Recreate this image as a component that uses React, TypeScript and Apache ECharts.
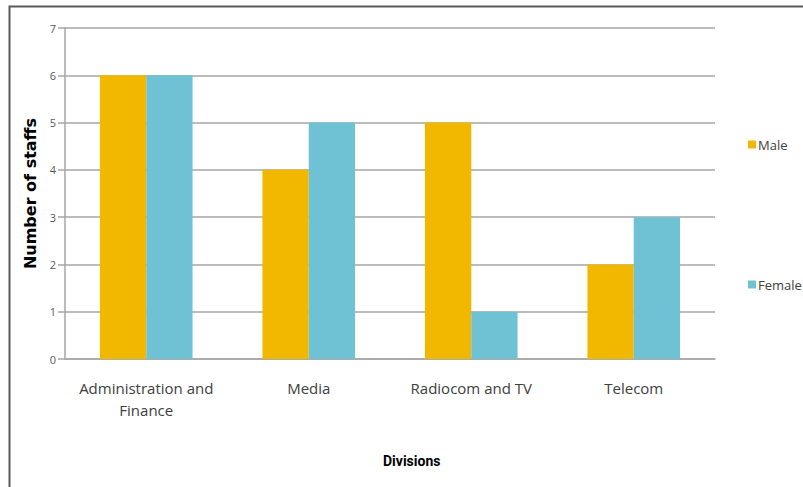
import React, { useEffect, useRef } from "react";
import * as echarts from "echarts";

const categories = ["Administration and\nFinance", "Media", "Radiocom and TV", "Telecom"];
const maleValues = [6, 4, 5, 2];
const femaleValues = [6, 5, 1, 3];
const yTicks = { min: 0, max: 7, interval: 1 };

export default function App() {
  const ref = useRef<HTMLDivElement>(null);
  useEffect(() => {
    if (!ref.current) return;
    const chart = echarts.init(ref.current, null, { renderer: "svg" });
    const font = "'Open Sans', sans-serif";
    chart.setOption({
      animation: false,
      backgroundColor: "#ffffff",
      grid: { left: 65, right: 88, top: 28, bottom: 128 },
      legend: [
        {
          data: ["Male"],
          left: 743,
          top: 133,
          icon: "rect",
          itemWidth: 8,
          itemHeight: 8,
          itemGap: 2,
          textStyle: { color: "#404040", fontSize: 13, fontFamily: font, padding: [0, 0, 0, -3] },
        },
        {
          data: ["Female"],
          left: 743,
          top: 273,
          icon: "rect",
          itemWidth: 8,
          itemHeight: 8,
          textStyle: { color: "#404040", fontSize: 13, fontFamily: font, padding: [0, 0, 0, -3] },
        },
      ],
      xAxis: {
        type: "category",
        data: categories,
        axisLine: { show: true, lineStyle: { color: "#a6a6a6", width: 1.5 } },
        axisTick: { show: false },
        axisLabel: { color: "#404040", fontSize: 15, fontFamily: font, margin: 18, lineHeight: 22, interval: 0 },
      },
      yAxis: {
        type: "value",
        min: yTicks.min,
        max: yTicks.max,
        interval: yTicks.interval,
        name: "Number of staffs",
        nameLocation: "middle",
        nameGap: 23,
        nameTextStyle: { color: "#000000", fontSize: 16, fontWeight: "bold", fontFamily: "'DejaVu Sans', sans-serif" },
        axisLine: { show: true, lineStyle: { color: "#a6a6a6", width: 1.5 } },
        axisTick: { show: true, length: 7, lineStyle: { color: "#a6a6a6", width: 1.5 } },
        axisLabel: { color: "#595959", fontSize: 11, fontFamily: font, margin: 9 },
        splitLine: { show: true, lineStyle: { color: "#a6a6a6", width: 1.5 } },
      },
      series: [
        {
          name: "Male",
          type: "bar",
          data: maleValues,
          itemStyle: { color: "#f2b800" },
          barGap: "0%",
          barCategoryGap: "43%",
        },
        {
          name: "Female",
          type: "bar",
          data: femaleValues,
          itemStyle: { color: "#6fc1d4" },
          barGap: "0%",
          barCategoryGap: "43%",
        },
      ],
      graphic: [
        {
          type: "polyline",
          shape: { points: [[9.5, 500], [9.5, 6.5], [810, 6.5]] },
          style: { stroke: "#5a5a5a", lineWidth: 2, fill: "none" },
        },
        {
          type: "text",
          left: 383,
          top: 454,
          style: { text: "Divisions", fill: "#000000", font: "bold 14px 'Roboto', sans-serif" },
        },
      ],
    });
    return () => chart.dispose();
  }, []);
  return (
    <div
      ref={ref}
      style={{ position: "fixed", left: 0, top: 0, width: 803, height: 487 }}
    />
  );
}
